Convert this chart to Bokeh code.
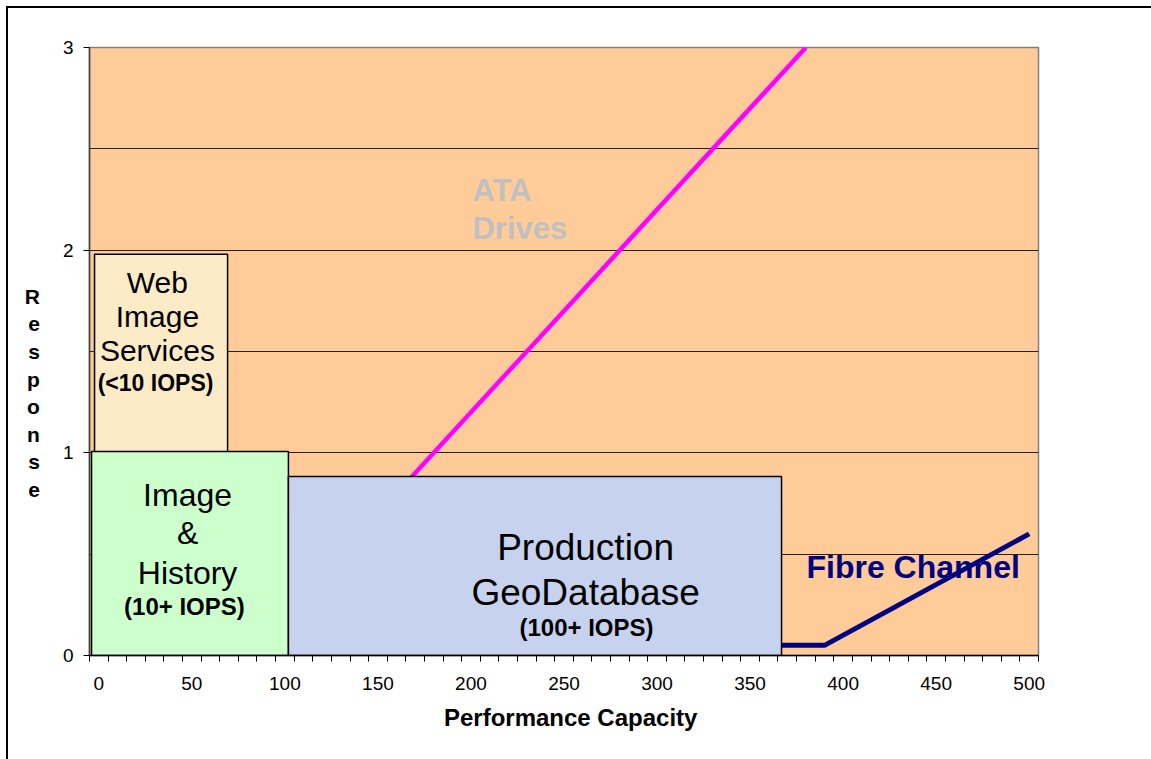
from bokeh.plotting import figure
from bokeh.models import FixedTicker, Range1d, ColumnDataSource
from bokeh.embed import file_html
from bokeh.resources import INLINE
from bokeh.core.properties import value

# ---------------- data ----------------
capacity_labels = [0, 50, 100, 150, 200, 250, 300, 350, 400, 450, 500]
capacity_categories = list(range(0, 501, 10))
response_labels = [0, 1, 2, 3]
response_grid = [0.5, 1.0, 1.5, 2.0, 2.5]

ata_capacity = [80, 380]
ata_response = [0.0, 3.0]

fc_capacity = [0, 390, 500]
fc_response = [0.05, 0.05, 0.6]

region_names = ["Web Image Services", "Image & History", "Production GeoDatabase"]
region_cap_from = [-2.3, -3.9, 101.9]
region_cap_to = [69.2, 101.9, 366.9]
region_resp_from = [1.0, 0.0, 0.0]
region_resp_to = [1.98, 1.006, 0.883]
region_colors = ["#FDEBC8", "#CCFFCC", "#C7D2EE"]

FONT = "Liberation Sans"

p = figure(width=1143, height=751, output_backend="svg", toolbar_location=None,
           x_range=Range1d(-5, 505), y_range=Range1d(0, 3),
           min_border_left=81, min_border_top=39, min_border_right=113,
           min_border_bottom=104)
p.styles = {"margin-left": "8px", "margin-top": "8px", "outline": "2px solid black"}
p.background_fill_color = "#FFCC99"
p.border_fill_color = "white"
p.outline_line_color = "#808080"
p.outline_line_width = 1.5

# grid
p.xgrid.visible = False
p.ygrid.ticker = FixedTicker(ticks=response_grid)
p.ygrid.grid_line_color = "black"
p.ygrid.grid_line_width = 1
p.ygrid.grid_line_alpha = 0.85

# x axis
minor = [c - 5 for c in capacity_categories] + [505]
p.xaxis.ticker = FixedTicker(ticks=capacity_labels, minor_ticks=minor)
p.xaxis.major_tick_out = 0
p.xaxis.major_tick_in = 0
p.xaxis.minor_tick_out = 6
p.xaxis.minor_tick_in = 0
p.xaxis.minor_tick_line_color = "black"
p.xaxis.axis_line_color = "black"
p.xaxis.axis_line_width = 1.5
p.xaxis.major_label_text_font = FONT
p.xaxis.major_label_text_font_size = "19px"
p.xaxis.major_label_text_color = "black"
p.xaxis.major_label_standoff = 15
p.xaxis.axis_label = "\u00a0\u00a0Performance Capacity"
p.xaxis.axis_label_text_font = FONT
p.xaxis.axis_label_text_font_size = "24px"
p.xaxis.axis_label_text_font_style = "bold"
p.xaxis.axis_label_text_color = "black"
p.xaxis.axis_label_standoff = 11

# y axis
p.yaxis.ticker = FixedTicker(ticks=response_labels)
p.yaxis.major_tick_out = 6
p.yaxis.major_tick_in = 0
p.yaxis.minor_tick_out = 0
p.yaxis.minor_tick_in = 0
p.yaxis.major_tick_line_color = "black"
p.yaxis.axis_line_color = "#404040"
p.yaxis.axis_line_width = 1.5
p.yaxis.major_label_text_font = FONT
p.yaxis.major_label_text_font_size = "19px"
p.yaxis.major_label_text_color = "black"
p.yaxis.major_label_standoff = 10
p.yaxis.axis_label = "\n\n\nR\ne\ns\np\no\nn\ns\ne"
p.yaxis.axis_label_orientation = "horizontal"
p.yaxis.axis_label_text_font = FONT
p.yaxis.axis_label_text_font_size = "21px"
p.yaxis.axis_label_text_font_style = "bold"
p.yaxis.axis_label_text_color = "black"
p.yaxis.axis_label_text_line_height = 1.2
p.yaxis.axis_label_standoff = 20

# lines (drawn beneath the region boxes)
p.line(ata_capacity, ata_response, line_color="#FF00FF", line_width=4.5)
p.line(fc_capacity, fc_response, line_color="#000080", line_width=5)

# regions
src = ColumnDataSource(dict(left=region_cap_from, right=region_cap_to,
                            bottom=region_resp_from, top=region_resp_to,
                            color=region_colors, name=region_names))
p.quad(left="left", right="right", bottom="bottom", top="top", source=src,
       fill_color="color", line_color="black", line_width=1.5)

def txt(x, y, s, size, style="normal", color="black", align="center"):
    p.text(x=[x], y=[y], text=[s], text_font=value(FONT), text_font_size=size,
           text_font_style=style, text_color=color, text_align=align,
           text_baseline="middle")

# Web Image Services
txt(31.5, 1.840, "Web", "30px")
txt(31.5, 1.672, "Image", "30px")
txt(31.5, 1.505, "Services", "30px")
txt(30.5, 1.347, "(<10 IOPS)", "23px", "bold")
# Image & History
txt(47.7, 0.794, "Image", "32px")
txt(47.7, 0.602, "&", "32px")
txt(47.7, 0.405, "History", "32px")
txt(46.0, 0.242, "(10+ IOPS)", "24px", "bold")
# Production GeoDatabase
txt(261.6, 0.533, "Production", "37px")
txt(261.6, 0.311, "GeoDatabase", "37px")
txt(262.1, 0.138, "(100+ IOPS)", "24px", "bold")
# series labels
txt(200.8, 2.294, "ATA", "31px", "bold", "#C0C0C0", "left")
txt(200.8, 2.107, "Drives", "31px", "bold", "#C0C0C0", "left")
txt(380.3, 0.439, "Fibre Channel", "32px", "bold", "#000080", "left")

open("out.html", "w").write(file_html(p, INLINE))
